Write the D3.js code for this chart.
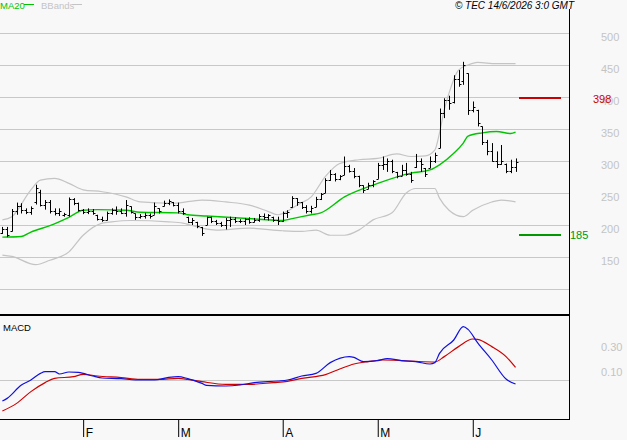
<!DOCTYPE html>
<html>
<head>
<meta charset="utf-8">
<script src="https://cdn.jsdelivr.net/npm/d3@7"></script>
<style>
  body { margin: 0; background: #f8f8f8; }
  svg { display: block; font-family: "Liberation Sans", Arial, sans-serif; }
</style>
</head>
<body>
<div id="chart"></div>
<script>
// daily OHLC bars, 8 Jan -> 12 Jun 2026 (bar index 0..108)
const opens = [188,194,190,222,230,224,220,236,252,232,236,222,218,216,216,240,234,224,220,222,
  216,210,208,218,224,222,219,229,218,212,214,216,216,226,230,235,236,232,222,213,
  205,205,197,200,212,206,203,200,208,210,207,206,209,205,208,214,212,213,208,206,
  218,228,242,236,228,222,228,240,250,270,280,272,278,292,285,276,262,256,262,272,
  294,296,300,283,277,286,280,290,300,289,289,300,320,375,395,392,428,425,437,380,
  380,354,330,315,300,295,296,285,290];
const highs = [197,197,225,235,234,226,229,263,255,239,239,226,226,219,243,242,235,225,226,225,
  216,213,221,226,229,226,239,229,218,217,219,218,235,226,238,240,236,235,226,213,
  211,205,197,213,213,208,205,211,213,212,209,211,212,211,217,218,217,213,213,221,
  223,245,242,236,231,230,244,250,273,286,281,278,307,294,289,277,262,266,270,297,
  307,304,302,283,294,297,283,311,304,289,307,313,382,398,402,434,442,455,437,393,
  380,354,333,328,315,325,296,302,304];
const lows = [186,181,190,216,218,217,216,232,229,224,218,215,214,213,213,231,221,217,217,216,
  207,205,207,216,216,217,213,218,208,210,210,210,216,218,229,231,229,218,216,203,
  200,195,183,200,203,200,197,193,197,203,203,200,202,204,205,208,207,205,200,205,
  211,227,230,225,218,218,228,239,250,269,268,270,278,282,273,259,250,256,259,272,
  286,283,281,273,277,277,266,289,283,275,289,297,320,367,380,390,416,419,372,376,
  354,325,309,299,289,294,281,281,283];
const closes = [194,185,222,230,224,220,226,258,232,236,222,218,222,217,240,234,224,220,222,218,
  210,208,218,224,222,219,232,220,212,214,216,214,230,222,235,238,232,222,218,205,
  208,198,188,212,206,203,200,208,210,207,206,209,205,208,214,212,215,208,206,218,
  220,242,236,228,222,226,240,248,270,280,272,276,292,285,276,262,255,262,268,294,
  296,300,284,276,286,280,270,300,295,280,300,310,375,395,390,428,420,450,380,385,
  360,330,315,300,295,300,285,290,298];

// MA20 at some bars
const maIdx = [0,4,6,10,14,17,20,26,29,37,39,43,54,59,61,65,67,72,79,86,90,92,95,97,98,101,104,107,108];
const maVal = [181,182,189,199,212,223,224,223,220,219,216,214,209,207,210,216,219,244,265,281,286,294,312,328,339,344,346,343,345];

// bollinger bands
const upIdx = [0,2,6,8,11,14,17,21,26,29,36,42,47,52,56,58,61,62,65,68,71,75,79,83,86,89,91,92,93,94,96,98,100,104,108];
const upVal = [208,213,255,270,273,265,255,252,244,236,234,239,236,231,221,216,226,231,244,276,296,302,304,311,307,308,317,344,380,406,442,450,454,452,452];
const loIdx = [0,2,7,10,14,17,21,23,27,35,38,42,45,52,59,63,66,69,72,75,78,82,85,87,91,92,94,97,99,103,105,108];
const loVal = [153,151,138,145,158,184,203,205,207,205,203,195,192,195,191,190,192,184,184,192,208,219,250,257,257,242,223,213,223,236,239,236];

// MACD and signal line
const macdIdx = [0,1,4,6,8,9,11,12,14,16,19,21,25,28,32,35,37,39,42,43,47,50,53,58,60,63,66,69,73,74,76,79,81,84,87,90,91,92,95,97,98,100,103,106,108];
const macdVal = [-0.168,-0.147,-0.04,0,0.053,0.067,0.067,0.048,0.064,0.061,0.032,0.016,0.011,0,0,0.021,0.027,0.011,-0.027,-0.043,
  -0.048,-0.04,-0.021,-0.008,0,0.032,0.053,0.139,0.187,0.181,0.147,0.155,0.171,0.155,0.147,0.128,0.139,0.213,0.32,0.427,
  0.405,0.299,0.16,0.008,-0.032];
const sigIdx = [0,3,6,9,11,15,17,20,25,29,33,37,39,42,47,52,57,60,63,68,71,74,77,80,84,87,91,93,96,99,100,103,106,108];
const sigVal = [-0.248,-0.187,-0.093,-0.021,0.013,0.027,0.045,0.032,0.019,0.005,0.005,0.013,0.005,-0.013,-0.035,-0.035,-0.021,-0.011,0.013,0.043,
  0.088,0.128,0.147,0.16,0.155,0.149,0.144,0.187,0.267,0.328,0.325,0.267,0.187,0.101];

// axes
const monthIdx = [17, 37, 59, 79, 99];
const monthLabels = ["F", "M", "A", "M", "J"];
const priceGrid = [100, 150, 200, 250, 300, 350, 400, 450, 500];
const priceTicks = [150, 200, 250, 300, 350, 400, 450, 500];
const macdTicks = [0.1, 0.3];
const levelValues = [398, 185];

const width = 627, height = 440;
const plotRight = 569;
const levelColors = ["#cc0000", "#009900"];

const svg = d3.select("#chart").append("svg")
  .attr("width", width)
  .attr("height", height);

svg.append("rect").attr("width", width).attr("height", height).attr("fill", "#f8f8f8");

const x = d3.scaleLinear().domain([-0.5, 119.25]).range([0, plotRight]);
const y = d3.scaleLinear().domain([100, 500]).range([289, 33]);
const ym = d3.scaleLinear().domain([0, 0.3]).range([380, 342.5]);
const crisp = (v) => Math.round(v) + 0.5;

// price gridlines
svg.append("g")
  .selectAll("line")
  .data(priceGrid)
  .join("line")
  .attr("x1", 0).attr("x2", plotRight)
  .attr("y1", (d) => crisp(y(d))).attr("y2", (d) => crisp(y(d)))
  .attr("stroke", "#c8c8c8");

// price labels on the right
const yAxis = svg.append("g")
  .attr("transform", "translate(601,0)")
  .call(d3.axisRight(y).tickValues(priceTicks).tickSize(0).tickPadding(0));
yAxis.select(".domain").remove();
yAxis.attr("font-family", null).attr("font-size", 11);
yAxis.selectAll("text").attr("fill", "#c4c4c4").attr("dy", 7.5);

// bollinger bands + MA20
const priceLine = d3.line()
  .x((d) => x(d[0]))
  .y((d) => y(d[1]))
  .curve(d3.curveMonotoneX);

svg.append("path").datum(d3.zip(upIdx, upVal))
  .attr("fill", "none").attr("stroke", "#c4c4c4").attr("stroke-width", 1.2)
  .attr("d", priceLine);
svg.append("path").datum(d3.zip(loIdx, loVal))
  .attr("fill", "none").attr("stroke", "#c4c4c4").attr("stroke-width", 1.2)
  .attr("d", priceLine);
svg.append("path").datum(d3.zip(maIdx, maVal))
  .attr("fill", "none").attr("stroke", "#00c400").attr("stroke-width", 1.4)
  .attr("d", priceLine);

// OHLC bars
const bars = svg.append("g")
  .selectAll("g")
  .data(d3.range(closes.length))
  .join("g")
  .attr("stroke", "#000")
  .attr("stroke-width", 1);
bars.append("line")
  .attr("x1", (i) => crisp(x(i))).attr("x2", (i) => crisp(x(i)))
  .attr("y1", (i) => y(highs[i])).attr("y2", (i) => y(lows[i]));
bars.append("line")
  .attr("x1", (i) => crisp(x(i)) - 2).attr("x2", (i) => crisp(x(i)))
  .attr("y1", (i) => crisp(y(opens[i]))).attr("y2", (i) => crisp(y(opens[i])));
bars.append("line")
  .attr("x1", (i) => crisp(x(i))).attr("x2", (i) => crisp(x(i)) + 2)
  .attr("y1", (i) => crisp(y(closes[i]))).attr("y2", (i) => crisp(y(closes[i])));

// resistance / support levels
levelValues.forEach((v, k) => {
  svg.append("line")
    .attr("x1", 519).attr("x2", 561)
    .attr("y1", Math.round(y(v))).attr("y2", Math.round(y(v)))
    .attr("stroke", levelColors[k]).attr("stroke-width", 2);
  svg.append("text")
    .attr("x", k === 0 ? 593 : 570)
    .attr("y", y(v) + 4.5)
    .attr("font-size", 11)
    .attr("fill", levelColors[k])
    .text(v);
});

// header
svg.append("text").attr("x", 0).attr("y", 9).attr("font-size", 9.5)
  .attr("fill", "#00c400").text("MA20");
svg.append("line").attr("x1", 24).attr("x2", 34).attr("y1", 4.5).attr("y2", 4.5)
  .attr("stroke", "#00c400");
svg.append("text").attr("x", 41).attr("y", 9).attr("font-size", 9.5)
  .attr("fill", "#c4c4c4").text("BBands");
svg.append("line").attr("x1", 72).attr("x2", 82).attr("y1", 4.5).attr("y2", 4.5)
  .attr("stroke", "#c4c4c4");
svg.append("text").attr("x", 574).attr("y", 9).attr("font-size", 10)
  .attr("font-style", "italic").attr("text-anchor", "end")
  .text("© TEC 14/6/2026 3:0 GMT");

// frame
svg.append("line").attr("x1", plotRight + 0.5).attr("x2", plotRight + 0.5)
  .attr("y1", 9).attr("y2", 419).attr("stroke", "#000");
svg.append("line").attr("x1", 0).attr("x2", plotRight + 1)
  .attr("y1", 315).attr("y2", 315).attr("stroke", "#000").attr("stroke-width", 2);
svg.append("line").attr("x1", 0).attr("x2", plotRight + 1)
  .attr("y1", 419.5).attr("y2", 419.5).attr("stroke", "#000");

// MACD panel
svg.append("line").attr("x1", 0).attr("x2", plotRight)
  .attr("y1", crisp(ym(0))).attr("y2", crisp(ym(0)))
  .attr("stroke", "#c8c8c8");
svg.append("text").attr("x", 3).attr("y", 331).attr("font-size", 9.5).text("MACD");

const mAxis = svg.append("g")
  .attr("transform", "translate(601,0)")
  .call(d3.axisRight(ym).tickValues(macdTicks).tickFormat(d3.format(".2f")).tickSize(0).tickPadding(0));
mAxis.select(".domain").remove();
mAxis.attr("font-family", null).attr("font-size", 11);
mAxis.selectAll("text").attr("fill", "#c4c4c4").attr("dy", 7.5);

const macdLine = d3.line()
  .x((d) => x(d[0]))
  .y((d) => ym(d[1]))
  .curve(d3.curveMonotoneX);

svg.append("path").datum(d3.zip(sigIdx, sigVal))
  .attr("fill", "none").attr("stroke", "#d00000").attr("stroke-width", 1.2)
  .attr("d", macdLine);
svg.append("path").datum(d3.zip(macdIdx, macdVal))
  .attr("fill", "none").attr("stroke", "#1010e0").attr("stroke-width", 1.2)
  .attr("d", macdLine);

// month axis
const xAxis = svg.append("g")
  .attr("transform", "translate(0,419)")
  .call(d3.axisBottom(x).tickValues(monthIdx).tickFormat((d, i) => monthLabels[i]).tickSize(18));
xAxis.select(".domain").remove();
xAxis.attr("font-family", null).attr("font-size", 12);
xAxis.selectAll("text")
  .attr("text-anchor", "start")
  .attr("fill", "#000")
  .attr("x", 2)
  .attr("y", 18)
  .attr("dy", 0);
</script>
</body>
</html>
